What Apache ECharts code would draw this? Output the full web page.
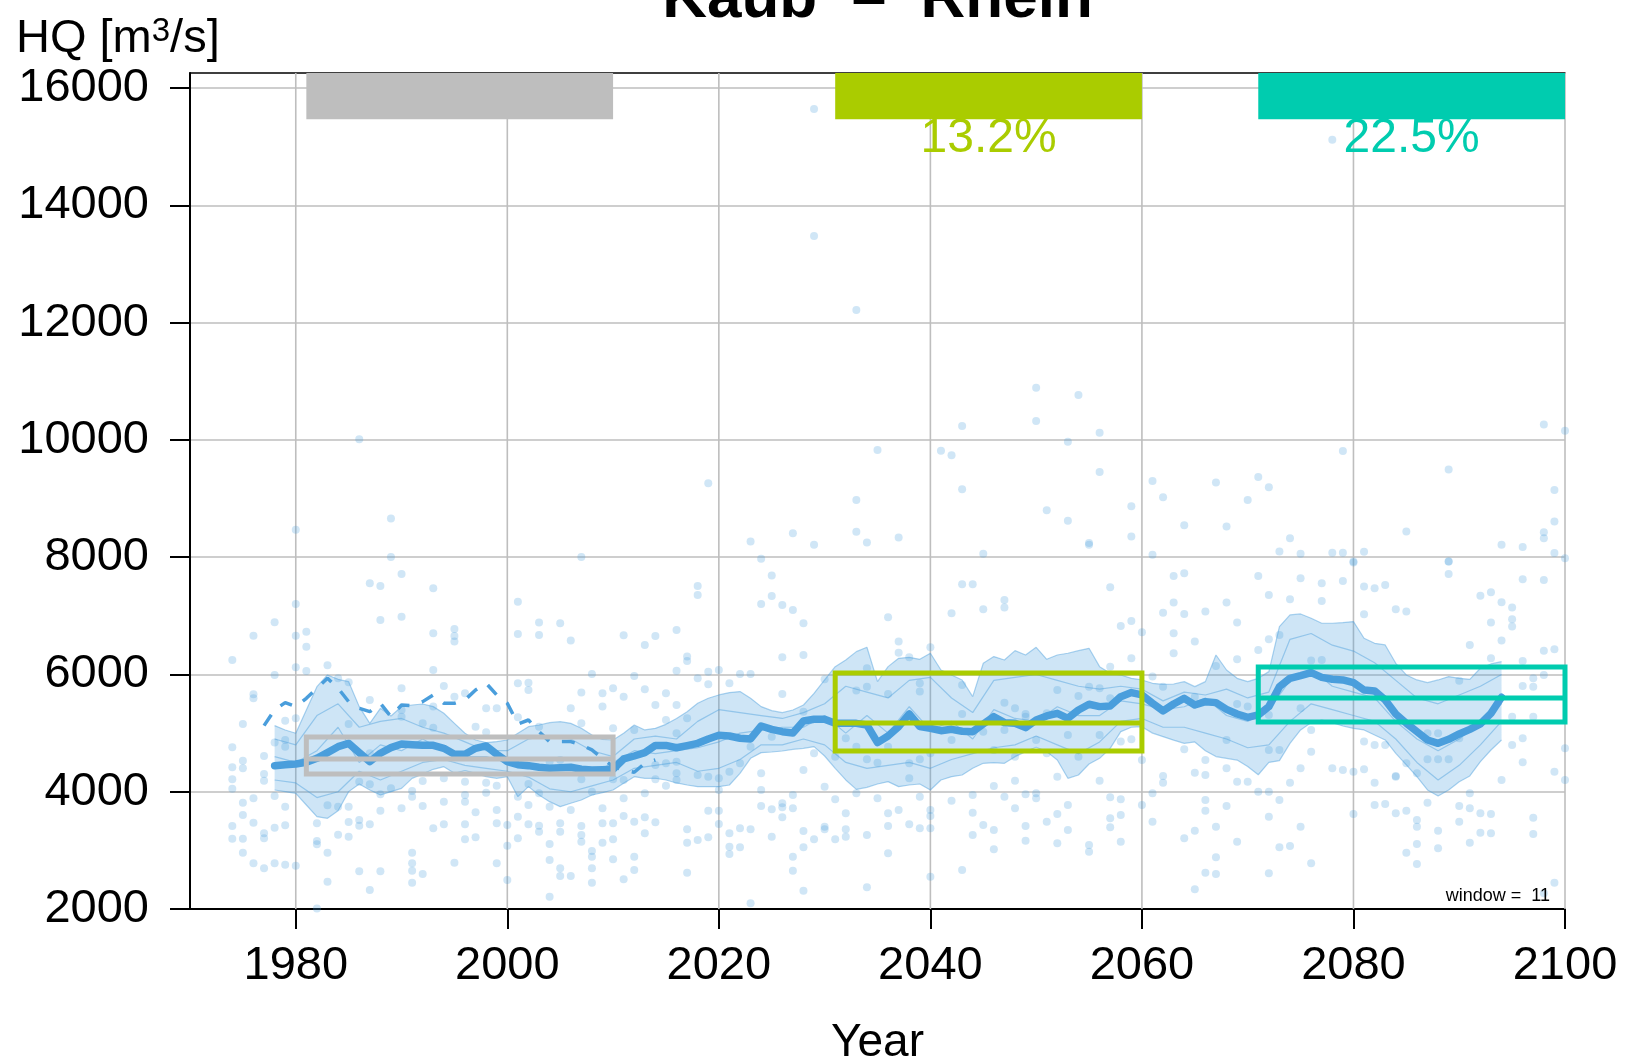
<!DOCTYPE html>
<html><head><meta charset="utf-8">
<script src="https://cdn.jsdelivr.net/npm/echarts@6/dist/echarts.min.js"></script>
<style>html,body{margin:0;padding:0;background:#fff}#c{width:1629px;height:1063px}</style>
</head><body><div id="c"></div>
<script>
// ---------- data ----------
const xTickYears = [1980, 2000, 2020, 2040, 2060, 2080, 2100];
const yTickValues = [2000, 4000, 6000, 8000, 10000, 12000, 14000, 16000];
const xMin = 1970, xMax = 2100, yMin = 2000, yMax = 16260;

// ensemble median of 11-year moving means, 1978..2094
const medianStart = 1978;
const medianLine = [4445,4462,4474,4502,4570,4667,4769,4826,4667,4513,4656,4752,4815,4803,4792,4792,4741,4639,4639,4741,
4781,4639,4513,4462,4445,4417,4400,4411,4417,4383,4371,4377,4383,4559,4610,4667,4790,4790,4750,4786,
4826,4900,4963,4951,4912,4900,5122,5065,5025,5003,5207,5236,5236,5167,5167,5167,5139,4838,4951,5111,
5327,5111,5082,5042,5065,5031,5025,5156,5281,5179,5167,5094,5224,5293,5338,5253,5395,5492,5452,5463,
5622,5691,5651,5509,5380,5497,5594,5480,5537,5520,5406,5327,5270,5310,5452,5793,5935,5981,6032,5952,
5918,5907,5861,5736,5719,5566,5327,5168,5025,4883,4826,4895,4986,5065,5156,5338,5611];

// ensemble range (max / min of members), 1978..2094
const bandUpper = [5128,5054,4997,5395,5793,5992,5918,5878,5452,5167,5423,5293,5452,5480,5497,5452,5338,5167,4997,4883,
4838,4855,4883,4997,5110,5139,5179,5196,5167,5082,4968,4894,4883,4997,5139,5054,5082,5150,5250,
5366,5509,5594,5651,5691,5708,5594,5452,5383,5349,5395,5480,5679,5907,6134,6248,6390,6464,5878,6134,
6276,6293,6259,6362,6077,5992,5907,5622,6191,6305,6248,6407,6333,6464,6259,6333,6362,6407,6447,6134,
6020,5992,5935,5907,5850,5830,
5838,5878,5793,5878,6333,6077,5935,5878,5935,6049,6817,7016,7033,6959,6874,6874,6885,6902,6618,6532,
6504,6191,5992,5907,5861,5907,5964,5935,5918,6106,6180,6219];
const bandLower = [4030,4002,3973,3774,3575,3547,3677,4002,4132,4030,3945,4002,4058,4229,4303,4383,4428,4314,4360,4314,
4257,4229,4257,3916,4087,3945,3831,3746,3803,3859,3945,3985,4030,4144,4257,4229,4230,4200,4150,
4115,4087,4087,4087,4115,4314,4570,4667,4678,4695,4724,4741,4769,4610,4400,4201,4041,4075,4132,4172,
4087,4115,4132,4030,4201,4257,4286,4400,4485,4496,4485,4599,4684,4758,4684,4542,4229,4286,4474,4570,4741,
5025,5100,5110,5000,4940,4880,4826,4850,4700,4600,4570,4540,4430,4290,4500,4530,4826,5054,5179,5224,
5179,5122,5082,5054,4968,4883,4655,4457,4257,4030,3928,4030,4172,4269,4513,4712,4883];

// individual members (every second year), 1978..2094
const memberStart = 1978, memberStep = 2;
const member1 = [4900,4800,5300,5500,5100,5200,5250,5100,5000,4850,4700,4700,4900,4950,4900,4700,4600,4900,4950,4900,
5200,5400,5350,5300,5250,5350,5500,5800,5700,5600,5900,5950,5600,5350,5900,5950,6000,5900,5800,5750,
5800,5750,5550,5700,5650,5750,5600,5700,6600,6700,6500,6400,6200,5900,5600,5500,5650,5800,6000];
const member2 = [4200,4150,3900,4000,4350,4200,4350,4500,4550,4450,4400,4350,4250,4050,4000,4100,4200,4400,4450,4500,
4350,4400,4550,4800,4800,4900,4800,4500,4400,4450,4500,4400,4550,4650,4750,4800,4950,4800,4650,4850,
5200,5250,5100,5100,5000,4900,4750,4800,5200,5500,5400,5300,5200,4900,4500,4200,4450,4800,5200];
const member3 = [4600,4500,4700,5100,4500,4800,4700,4900,4700,4600,4600,4500,4500,4350,4450,4300,4500,4700,4650,4700,
4750,4850,5000,5050,5100,5100,5300,5000,5300,5000,5450,5050,5200,4900,5400,5250,5200,5450,5300,5300,
5550,5500,5400,5450,5600,5300,5200,5400,5900,6100,5800,5700,5600,5200,4900,4700,4900,5200,5500];

// observed 11-year moving mean (dashed), 1977..2014
const obsStart = 1977;
const obsLine = [5128,5395,5520,5452,5594,5765,5935,5765,5537,5423,5366,5509,5281,5480,5469,5537,5651,5509,5509,5566,
5736,5850,5651,5509,5156,5224,5025,4855,4855,4855,4798,4713,4570,4428,4371,4332,4485,4542];

// periods and their box statistics
const periods = [[1981, 2010], [2031, 2060], [2071, 2100]];
const periodColors = ['#bebebe', '#aacc00', '#00ccaf'];
const boxLow  = [4303, 4695, 5190];
const boxMid  = [4559, 5173, 5600];
const boxHigh = [4934, 6026, 6129];
const changeLabels = ['', '13.2%', '22.5%'];

// annual maxima of all members [year, HQ]
const hqPoints = [
[1990,7715],[1987,7556],[1988,7510],[1993,7471],[1980,7203],[1988,6930],[1990,6987],[1978,6891],[1976,6663],[1980,6663],
[1981,6731],[1981,6475],[1993,6703],[1995,6777],[1995,6657],[1995,6561],[1974,6248],[1980,6123],[1981,6060],[1978,5992],
[1983,6157],[1984,5935],[1985,5867],[1990,5765],[1993,6077],[1994,5804],[1995,5622],[1996,5679],[2001,7243],[2003,6885],
[2005,6873],[2006,6578],[2001,6691],[2003,6674],[2011,6669],[2013,6504],[2014,6657],[2016,6760],[2008,6009],[2012,5975],
[2016,6066],[2001,5850],[2002,5861],[2002,5736],[2010,5765],[2007,5691],[2009,5679],[2013,5747],[2011,5622],[2015,5679],
[2014,5480],[2009,5452],[2006,5423],[1998,5423],[1999,5423],[2001,5270],[2003,5110],[2007,5167],[2010,5082],[2012,5054],
[2015,5224],[1975,5156],[1976,5662],[1976,5594],[1979,5213],[1985,5156],[1992,5167],[1993,5093],[1997,5110],[1998,5014],
[1974,4758],[1975,4530],[1975,4400],[1974,4417],[1974,4212],[1974,4053],[1977,4610],[1977,4303],[1977,4189],[1978,4838],
[1979,4883],[1979,4769],[1978,3928],[1980,5253],[1987,5565],[1990,5395],[1990,5281],[1993,5452],[1987,4655],[1986,4172],
[1987,4127],[1988,3956],[1989,4058],[1991,4013],[1991,3916],[1992,4184],[1992,3757],[1990,3717],[1988,3677],[1994,4229],
[1994,3831],[1996,4172],[1996,3945],[1996,3831],[1997,3649],[1998,4155],[1998,3985],[1999,4104],[1999,3689],[2000,3433],
[2001,3916],[2002,4132],[2002,3774],[2003,3973],[2004,3746],[2004,4513],[2005,4542],[2006,3689],[2007,4212],[2008,4002],
[2009,3717],[2010,4212],[2011,3888],[2011,4201],[2013,3973],[2014,4212],[2015,4104],[2016,4201],[2014,4457],[2015,4485],
[2016,4314],[1975,3814],[1975,3603],[1976,3888],[1976,3473],[1974,3416],[1974,3200],[1975,3200],[1975,2961],[1976,2779],
[1977,3291],[1977,3205],[1977,2694],[1978,3387],[1978,2779],[1979,3746],[1979,3427],[1979,2756],[1980,2739],[1982,3461],
[1982,3160],[1982,3103],[1983,3768],[1983,2961],[1983,2466],[1984,3746],[1984,3268],[1985,3746],[1985,3484],[1985,3234],
[1986,3518],[1986,3421],[1986,2642],[1987,3444],[1987,2324],[1988,2642],[1991,2961],[1991,2779],[1991,2654],[1991,2449],
[1992,2597],[1993,3376],[1994,3444],[1995,2790],[1996,3444],[1996,3188],[1997,3222],[1999,3461],[1999,2779],[2000,3080],
[2000,2494],[2001,3575],[2001,3205],[2002,3444],[2003,3421],[2003,3319],[2004,3109],[2004,2836],[2005,3461],[2005,3319],
[2005,2694],[2005,2563],[2006,2563],[2007,3416],[2007,3262],[2007,3148],[2008,2989],[2008,2893],[2008,2694],[2008,2449],
[2009,3461],[2009,3131],[2010,3461],[2010,3188],[2010,2847],[2011,3586],[2011,2506],[2012,3490],[2012,2893],[2012,2665],
[2013,3563],[2013,3291],[2014,3478],[2004,2210],[1982,2010],
[2025,7687],[2018,7510],[2018,7357],[2024,7203],[2025,7340],[2026,7186],[2027,7101],[2028,6873],[2017,6305],[2017,6231],
[2026,6293],[2028,6333],[2019,6049],[2020,6077],[2022,6009],[2023,6009],[2016,5480],[2018,5935],[2019,5833],[2021,5850],
[2026,5668],[2028,5366],[2030,5918],[2034,6106],[2034,5793],[2036,6976],[2037,6561],[2037,6373],[2038,6293],[2036,5668],
[2033,5725],[2039,5850],[2039,5708],[2040,6464],[2042,7044],[2043,7539],[2044,7539],[2045,7112],[2047,7272],[2047,7141],
[2057,7488],[2058,6828],[2059,6913],[2060,6720],[2059,6276],[2057,6134],[2043,5821],[2047,5520],[2052,5736],[2054,5634],
[2056,5765],[2049,5327],[2048,5423],[2051,5338],[2055,5793],[2017,5253],[2016,4997],[2018,4286],[2019,4257],[2020,4229],
[2021,4343],[2022,4485],[2023,4769],[2024,4314],[2025,4940],[2028,4371],[2029,4655],[2030,4087],[2031,4599],[2032,4912],
[2033,4769],[2034,4553],[2035,4496],[2036,4769],[2038,4485],[2039,4553],[2040,4655],[2042,4883],[2043,5327],[2045,5025],
[2046,4712],[2047,5054],[2048,4599],[2049,5281],[2050,4883],[2051,4655],[2052,4257],[2053,4968],[2054,4599],[2056,4968],
[2057,5594],[2058,4855],[2059,4894],[2060,4542],[2016,4513],[2017,3359],[2017,3131],[2017,2620],[2018,3177],[2019,3677],
[2019,3222],[2020,4030],[2020,3677],[2020,3450],[2021,3291],[2021,3063],[2021,2938],[2022,3376],[2022,3052],[2023,3359],
[2024,4030],[2024,3757],[2025,3700],[2025,3234],[2026,3803],[2026,3734],[2026,3564],[2027,3945],[2027,3717],[2027,2893],
[2027,2654],[2028,3330],[2028,3052],[2028,2313],[2029,3188],[2030,3404],[2030,3359],[2031,3871],[2031,3188],[2032,3359],
[2032,3632],[2032,3234],[2033,3973],[2034,3262],[2034,2369],[2035,3888],[2036,3632],[2036,3416],[2036,2950],[2037,3689],
[2038,3444],[2038,4229],[2039,3916],[2039,3376],[2040,3689],[2040,3586],[2040,3376],[2040,2551],[2042,3848],[2043,2665],
[2044,3945],[2044,3643],[2044,3262],[2045,3433],[2046,4098],[2046,3347],[2046,3018],[2047,3916],[2048,4189],[2048,3717],
[2049,3956],[2049,3416],[2049,3165],[2050,3973],[2050,3888],[2051,3490],[2052,3621],[2052,3120],[2053,3774],[2053,3347],
[2055,3092],[2055,2978],[2056,4189],[2057,3905],[2057,3547],[2057,3393],[2058,3871],[2058,3603],[2058,3148],[2060,3774],
[2061,3973],[2061,3490],[2023,2100],
[2080,7909],[2089,7926],[2089,7715],[2063,7681],[2064,7726],[2071,7681],[2075,7641],[2077,7556],[2079,7596],[2081,7499],
[2082,7471],[2083,7528],[2096,7624],[2098,7613],[2092,7345],[2093,7402],[2062,7055],[2064,7033],[2063,7226],[2066,7073],
[2068,7226],[2072,7357],[2074,7283],[2077,7255],[2084,7112],[2085,7073],[2081,7027],[2094,7232],[2095,7141],[2095,6942],
[2095,6817],[2093,6885],[2094,6578],[2063,6703],[2065,6561],[2069,6885],[2071,6419],[2072,6600],[2073,6674],[2063,6362],
[2067,6146],[2069,6259],[2091,6504],[2093,6276],[2096,6231],[2098,6407],[2097,5935],[2098,5992],[2096,5804],[2097,5793],
[2099,6430],[2090,5895],[2061,5964],[2062,5793],[2065,5622],[2069,5497],[2070,5452],[2072,5310],[2072,4712],[2073,4712],
[2075,5423],[2076,5054],[2076,4684],[2077,6248],[2076,6237],[2081,4855],[2082,4798],[2083,4798],[2084,4269],[2087,4553],
[2088,4553],[2089,4553],[2090,4911],[2088,4997],[2087,4997],[2085,4485],[2086,4314],[2068,4883],[2068,4400],[2066,4542],
[2066,4286],[2065,4326],[2064,4724],[2062,4269],[2062,4155],[2069,4172],[2070,4172],[2071,4002],[2072,4002],[2073,3860],
[2074,4155],[2075,4400],[2075,3404],[2078,4400],[2079,4371],[2080,4343],[2081,4383],[2082,4155],[2084,4257],[2084,3632],
[2085,3677],[2086,3404],[2086,3518],[2086,3109],[2087,3814],[2088,3336],[2090,3757],[2091,3717],[2091,3973],[2092,3632],
[2093,3291],[2093,3621],[2092,3302],[2091,3131],[2094,4201],[2095,4798],[2095,5281],[2097,5281],[2096,4911],[2097,3558],
[2097,3279],[2096,4502],[2099,4343],[2100,4201],[2100,4741],[2099,2449],[2098,2267],[2064,3205],[2065,3336],[2066,3860],
[2066,3677],[2067,3404],[2067,2881],[2066,2620],[2067,2597],[2068,3757],[2069,3148],[2072,3575],[2072,2608],[2073,3052],
[2074,3075],[2076,2779],[2080,3621],[2082,3774],[2083,3791],[2085,2961],[2086,2768],[2088,3035],[2090,3490],[2065,2335],
[2029,15645],[2029,13478],[2033,12218],[1986,10011],[2019,9262],[2033,8978],[1989,8661],[1980,8468],[2023,8269],[2027,8411],
[2029,8213],[2033,8434],[2034,8252],[1989,8003],[2007,8003],[2024,7974],[2035,9830],
[2078,15123],[2050,10891],[2054,10766],[2050,10323],[2043,10238],[2056,10125],[2053,9971],[2041,9818],[2042,9739],[2056,9455],
[2043,9160],[2059,8871],[2051,8803],[2053,8621],[2037,8337],[2055,8241],[2055,8213],[2059,8354],[2045,8059],[2061,9302],
[2062,9024],[2067,9274],[2071,9370],[2072,9194],[2070,8978],[2064,8547],[2068,8525],[2074,8326],[2073,8099],[2075,8059],
[2078,8076],[2079,8076],[2081,8093],[2079,9813],[2089,9495],[2085,8439],[2094,8213],[2096,8173],[2098,10266],[2100,10159],
[2099,9149],[2099,8610],[2098,8428],[2098,8326],[2099,8071],[2061,8043],[2080,7929],[2089,7929],[2100,7985]
];

// ---------- build ----------
const FONT = '"Liberation Sans", Arial, Helvetica, sans-serif';
const BLUE = '#4a9edc';
const pairs = (start, step, arr) => arr.map((v, i) => [start + i * step, v]);
const medianYears = medianLine.map((_, i) => medianStart + i);

const series = [];
// vertical grid lines
series.push({
  type: 'custom', z: 1, silent: true,
  data: xTickYears.map(y => [y, yMin]), encode: {x: 0, y: 1},
  renderItem: (p, api) => {
    const a = api.coord([api.value(0), yMin]), b = api.coord([api.value(0), yMax]);
    return {type: 'line', shape: {x1: a[0], y1: a[1], x2: b[0], y2: b[1]},
            style: {stroke: '#bebebe', lineWidth: 1.6}};
  }
});
// points
series.push({type: 'scatter', z: 2, silent: true, symbolSize: 8, data: hqPoints,
  itemStyle: {color: 'rgba(74,158,220,0.32)'}});
// band polygon
series.push({
  type: 'custom', z: 3, silent: true, clip: true,
  data: [[medianYears[0], bandLower[0]]], encode: {x: 0, y: 1},
  renderItem: (p, api) => {
    const pts = [];
    for (let i = 0; i < medianYears.length; i++) pts.push(api.coord([medianYears[i], bandUpper[i]]));
    for (let i = medianYears.length - 1; i >= 0; i--) pts.push(api.coord([medianYears[i], bandLower[i]]));
    return {type: 'polygon', shape: {points: pts}, style: {fill: 'rgba(74,158,220,0.27)'}};
  }
});
const thin = {color: 'rgba(74,158,220,0.45)', width: 1.2};
[bandUpper, bandLower].forEach(arr => series.push({type: 'line', z: 4, silent: true, symbol: 'none',
  data: arr.map((v, i) => [medianYears[i], v]), lineStyle: thin}));
[member1, member2, member3].forEach(arr => series.push({type: 'line', z: 4, silent: true, symbol: 'none',
  data: pairs(memberStart, memberStep, arr), lineStyle: thin}));
// observed dashed
series.push({type: 'line', z: 5, silent: true, symbol: 'none', data: pairs(obsStart, 1, obsLine),
  lineStyle: {color: BLUE, width: 3.5, type: [13, 13], cap: 'butt'}});
// median thick
series.push({type: 'line', z: 6, silent: true, symbol: 'none', data: pairs(medianStart, 1, medianLine),
  lineStyle: {color: BLUE, width: 7.5, cap: 'round', join: 'round'}});
// period boxes
periods.forEach((pr, i) => {
  const [x0, x1] = pr;
  series.push({type: 'line', z: 7, silent: true, symbol: 'none', clip: false,
    data: [[x0, boxLow[i]], [x1, boxLow[i]], [x1, boxHigh[i]], [x0, boxHigh[i]], [x0, boxLow[i]]],
    lineStyle: {color: periodColors[i], width: 5, cap: 'square', join: 'miter'}});
  series.push({type: 'line', z: 7, silent: true, symbol: 'none', clip: false,
    data: [[x0, boxMid[i]], [x1, boxMid[i]]],
    lineStyle: {color: periodColors[i], width: 5, cap: 'butt'}});
});
// period tabs at top + change labels
const tabBottom = 15470, labelCenter = 15136;
series.push({
  type: 'custom', z: 8, silent: true,
  data: periods.map((pr, i) => [pr[0], pr[1], i]), encode: {x: [0, 1]},
  renderItem: (p, api) => {
    const i = api.value(2);
    const a = api.coord([api.value(0), yMax]), b = api.coord([api.value(1), tabBottom]);
    const c = api.coord([(api.value(0) + api.value(1)) / 2, labelCenter]);
    const children = [{type: 'rect', shape: {x: a[0], y: a[1], width: b[0] - a[0], height: b[1] - a[1]},
      style: {fill: periodColors[i]}}];
    if (changeLabels[i]) children.push({type: 'text', x: c[0], y: c[1],
      style: {text: changeLabels[i], fill: periodColors[i], font: '48px ' + FONT, align: 'center', verticalAlign: 'middle'}});
    return {type: 'group', children};
  }
});

const plain = v => String(v);
const option = {
  animation: false,
  backgroundColor: '#fff',
  grid: {left: 190, right: 64, top: 73, bottom: 154, containLabel: false, outerBoundsMode: 'none'},
  xAxis: [{
    type: 'value', min: xMin, max: xMax, position: 'bottom',
    axisLine: {show: true, onZero: false, lineStyle: {color: '#000', width: 2}},
    axisTick: {show: true, inside: false, length: 20, customValues: xTickYears, lineStyle: {color: '#000', width: 2}},
    axisLabel: {show: true, customValues: xTickYears, formatter: plain, margin: 34, fontSize: 47, color: '#000', fontFamily: FONT},
    splitLine: {show: false},
    name: 'Year', nameLocation: 'middle', nameGap: 111,
    nameTextStyle: {fontSize: 46, color: '#000', fontFamily: FONT}
  }, {
    type: 'value', min: xMin, max: xMax, position: 'top',
    axisLine: {show: true, onZero: false, lineStyle: {color: '#000', width: 1.5}},
    axisTick: {show: false}, axisLabel: {show: false}, splitLine: {show: false}
  }],
  yAxis: {
    type: 'value', min: yMin, max: yMax, interval: 2000,
    axisLine: {show: true, onZero: false, lineStyle: {color: '#000', width: 2}},
    axisTick: {show: true, inside: false, length: 20, customValues: yTickValues, lineStyle: {color: '#000', width: 2}},
    axisLabel: {customValues: yTickValues, formatter: plain, margin: 41, fontSize: 47, color: '#000', fontFamily: FONT},
    splitLine: {show: true, lineStyle: {color: '#bebebe', width: 1.6}}
  },
  graphic: [
    {type: 'text', x: 877.5, y: 0, z: 100,
      style: {text: 'Kaub  \u2013  Rhein', fill: '#000', font: 'bold 62px ' + FONT, align: 'center', verticalAlign: 'middle'}},
    {type: 'text', x: 16, y: 39, z: 100,
      style: {text: '{a|HQ [m}{s|3}{a|/s]}', align: 'left', verticalAlign: 'middle',
        rich: {a: {fontSize: 47, fontFamily: FONT, fill: '#000'},
               s: {fontSize: 33, fontFamily: FONT, fill: '#000', verticalAlign: 'top', padding: [0, 0, 6, 0]}}}},
    {type: 'text', x: 1550, y: 896, z: 100,
      style: {text: 'window =  11', fill: '#000', font: '18px ' + FONT, align: 'right', verticalAlign: 'middle'}}
  ],
  series
};
const chart = echarts.init(document.getElementById('c'), null, {renderer: 'canvas', width: 1629, height: 1063});
chart.setOption(option);
</script>
</body></html>
